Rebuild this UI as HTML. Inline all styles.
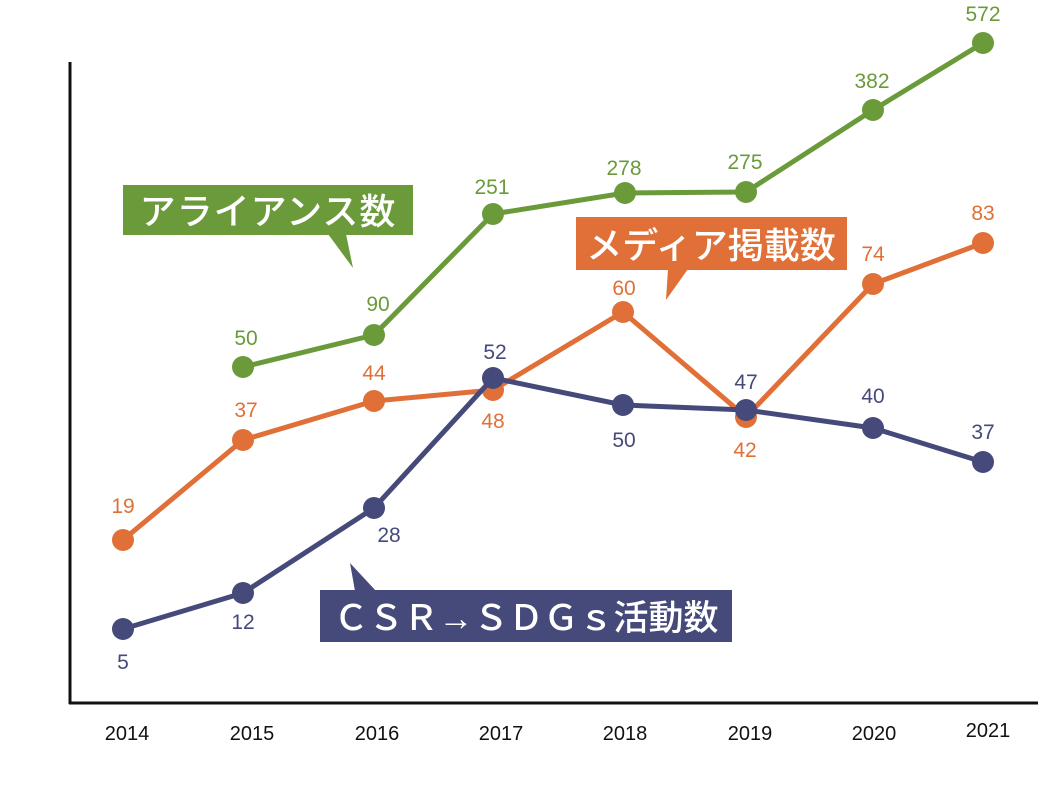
<!DOCTYPE html>
<html><head><meta charset="utf-8"><style>
html,body{margin:0;padding:0;background:#fff;width:1038px;height:800px;overflow:hidden}
svg{display:block}
text{font-family:"Liberation Sans","Noto Sans CJK JP",sans-serif}
</style></head><body>
<svg width="1038" height="800" viewBox="0 0 1038 800">
<line x1="70" y1="62" x2="70" y2="704" stroke="#111" stroke-width="3"/>
<line x1="69" y1="703" x2="1038" y2="703" stroke="#111" stroke-width="3"/>
<g font-size="20" fill="#111" text-anchor="middle">
<text x="127" y="740">2014</text><text x="252" y="740">2015</text><text x="377" y="740">2016</text><text x="501" y="740">2017</text><text x="625" y="740">2018</text><text x="750" y="740">2019</text><text x="874" y="740">2020</text><text x="988" y="737">2021</text>
</g>
<polyline points="243,367 374,335 493,214 625,193 746,192 873,110 983,43" fill="none" stroke="#6a9a3a" stroke-width="5" stroke-linejoin="round"/>
<g fill="#6a9a3a"><circle cx="243" cy="367" r="11"/><circle cx="374" cy="335" r="11"/><circle cx="493" cy="214" r="11"/><circle cx="625" cy="193" r="11"/><circle cx="746" cy="192" r="11"/><circle cx="873" cy="110" r="11"/><circle cx="983" cy="43" r="11"/></g>
<g font-size="21" fill="#6a9a3a" text-anchor="middle">
<text x="246" y="345">50</text><text x="378" y="311">90</text><text x="492" y="194">251</text><text x="624" y="175">278</text><text x="745" y="169">275</text><text x="872" y="88">382</text><text x="983" y="21">572</text>
</g>
<polyline points="123,540 243,440 374,401 493,390 623,312 746,417 873,284 983,243" fill="none" stroke="#e07038" stroke-width="5" stroke-linejoin="round"/>
<g fill="#e07038"><circle cx="123" cy="540" r="11"/><circle cx="243" cy="440" r="11"/><circle cx="374" cy="401" r="11"/><circle cx="493" cy="390" r="11"/><circle cx="623" cy="312" r="11"/><circle cx="746" cy="417" r="11"/><circle cx="873" cy="284" r="11"/><circle cx="983" cy="243" r="11"/></g>
<g font-size="21" fill="#e07038" text-anchor="middle">
<text x="123" y="513">19</text><text x="246" y="417">37</text><text x="374" y="380">44</text><text x="493" y="428">48</text><text x="624" y="295">60</text><text x="745" y="457">42</text><text x="873" y="261">74</text><text x="983" y="220">83</text>
</g>
<polyline points="123,629 243,593 374,508 493,378 623,405 746,410 873,428 983,462" fill="none" stroke="#454a7a" stroke-width="5" stroke-linejoin="round"/>
<g fill="#454a7a"><circle cx="123" cy="629" r="11"/><circle cx="243" cy="593" r="11"/><circle cx="374" cy="508" r="11"/><circle cx="493" cy="378" r="11"/><circle cx="623" cy="405" r="11"/><circle cx="746" cy="410" r="11"/><circle cx="873" cy="428" r="11"/><circle cx="983" cy="462" r="11"/></g>
<g font-size="21" fill="#454a7a" text-anchor="middle">
<text x="123" y="669">5</text><text x="243" y="629">12</text><text x="389" y="542">28</text><text x="495" y="359">52</text><text x="624" y="447">50</text><text x="746" y="389">47</text><text x="873" y="403">40</text><text x="983" y="439">37</text>
</g>
<rect x="123" y="185" width="290" height="50" fill="#6a9a3a"/>
<polygon points="328,234 346,234 353,268" fill="#6a9a3a"/>
<text x="268" y="224" font-size="36" font-weight="500" fill="#fff" text-anchor="middle" letter-spacing="1">アライアンス数</text>
<rect x="576" y="217" width="271" height="53" fill="#e07038"/>
<polygon points="668,269 688,269 666,300" fill="#e07038"/>
<text x="711" y="258" font-size="36" font-weight="500" fill="#fff" text-anchor="middle">メディア掲載数</text>
<rect x="320" y="590" width="412" height="52" fill="#454a7a"/>
<polygon points="355,591 376,591 350,563" fill="#454a7a"/>
<text x="526" y="630" font-size="35" font-weight="500" fill="#fff" text-anchor="middle">ＣＳＲ→ＳＤＧｓ活動数</text>
</svg>
</body></html>
